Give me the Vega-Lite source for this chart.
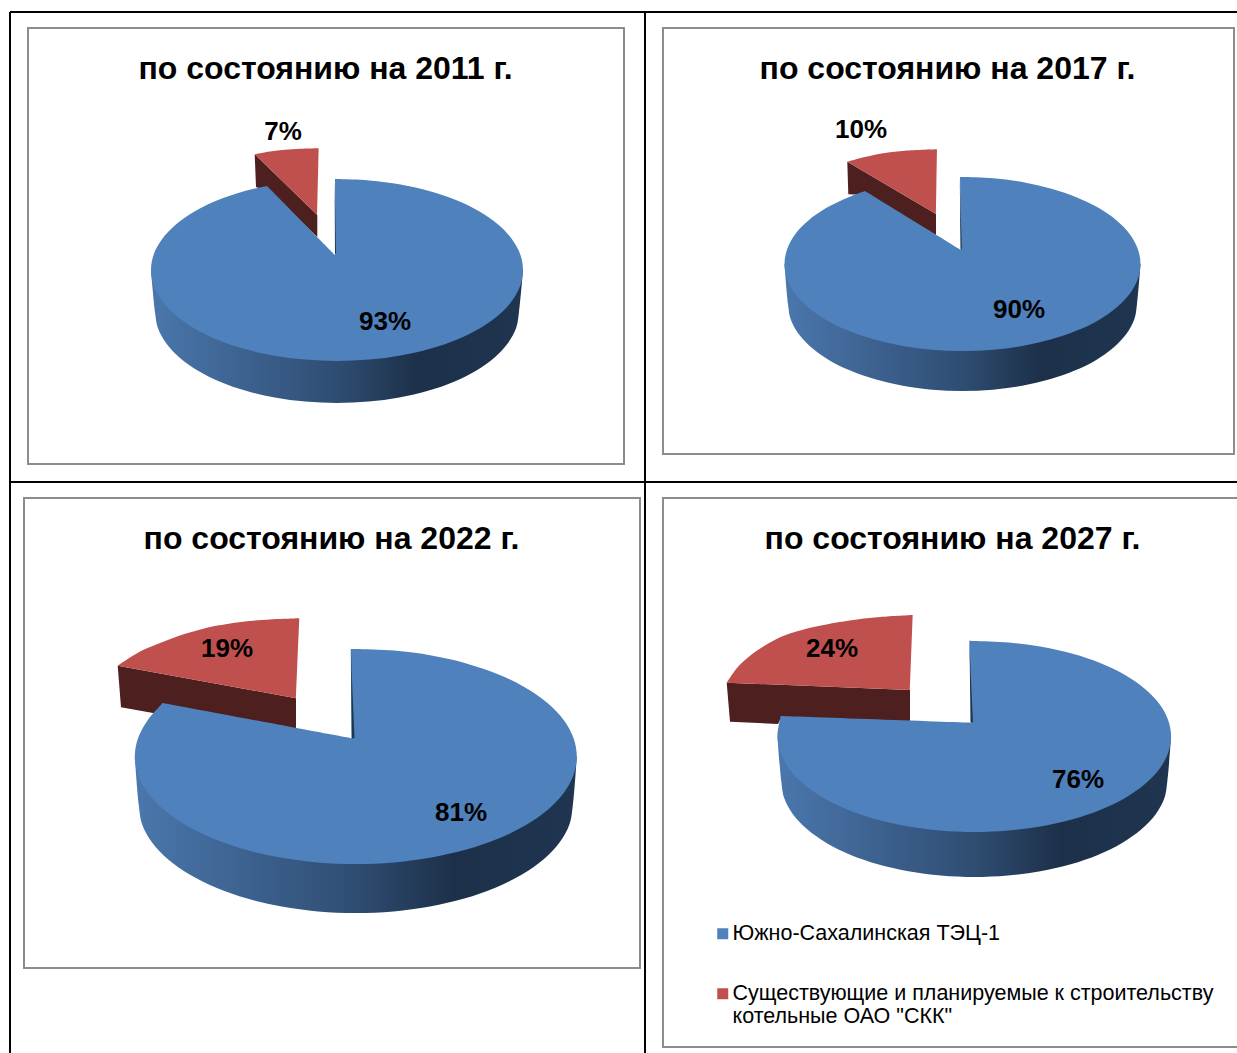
{"$schema":"https://vega.github.io/schema/vega-lite/v6.json","background":"white","padding":{"left":9,"top":11,"right":0,"bottom":0},"bounds":"flush","spacing":0,"columns":2,"config":{"view":{"stroke":null},"font":"Liberation Sans","title":{"font":"Liberation Sans","fontSize":32,"fontWeight":"bold","color":"#000000","baseline":"alphabetic","anchor":"middle","offset":-75},"text":{"font":"Liberation Sans","fontSize":26,"fontWeight":"bold","color":"#000000","dy":1},"legend":{"labelFont":"Liberation Sans","labelFontSize":21.5,"labelColor":"#000000","symbolType":"square","symbolSize":121,"symbolStrokeWidth":0,"labelOffset":-1,"labelLimit":600,"orient":"none","legendX":702,"legendY":911,"rowPadding":37,"zindex":1}},"concat":[{"width":635,"height":470,"title":{"text":"по состоянию на 2011 г.","dx":-2},"encoding":{"x":{"field":"x","type":"quantitative","axis":null,"scale":{"domain":[10,645],"nice":false,"zero":false}},"y":{"field":"y","type":"quantitative","axis":null,"scale":{"domain":[482,12],"nice":false,"zero":false}}},"layer":[{"data":{"values":[{"x":10,"y":12,"x2":645,"y2":12},{"x":10,"y":12,"x2":10,"y2":482},{"x":645,"y":12,"x2":645,"y2":482},{"x":10,"y":482,"x2":645,"y2":482}]},"mark":{"type":"rule","color":"#000000","strokeWidth":2},"encoding":{"x2":{"field":"x2"},"y2":{"field":"y2"}}},{"data":{"values":[{"x":28,"y":28,"x2":624,"y2":464}]},"mark":{"type":"rect","fill":"#ffffff","stroke":"#8c8c8c","strokeWidth":2},"encoding":{"x2":{"field":"x2"},"y2":{"field":"y2"}}},{"data":{"values":[{"x":254.7,"y":154.3},{"x":317.3,"y":215},{"x":317.3,"y":237},{"x":270,"y":192},{"x":256,"y":187}]},"mark":{"type":"line","filled":true,"fill":"#4d1f1f","stroke":null},"encoding":{"order":{"value":null}}},{"data":{"values":[{"x":254.7,"y":154.3},{"x":270,"y":151.5},{"x":285,"y":149.8},{"x":300,"y":148.8},{"x":318.7,"y":148.3},{"x":318.7,"y":148.3},{"x":317.3,"y":215}]},"mark":{"type":"line","filled":true,"stroke":null,"interpolate":"catmull-rom"},"encoding":{"order":{"value":null},"color":{"datum":"Существующие и планируемые к строительству котельные ОАО \"СКК\"","scale":{"domain":["Южно-Сахалинская ТЭЦ-1","Существующие и планируемые к строительству котельные ОАО \"СКК\""],"range":["#4f81bd","#c0504d"]},"legend":{"title":null,"labelExpr":"datum.label=='Южно-Сахалинская ТЭЦ-1' ? datum.label : ['Существующие и планируемые к строительству','котельные ОАО \"СКК\"']"}}}},{"data":{"values":[{"x":523,"y":270},{"x":519,"y":312},{"x":516.2,"y":327.8},{"x":508,"y":343.1},{"x":494.6,"y":357.5},{"x":476.4,"y":370.5},{"x":454,"y":381.7},{"x":428,"y":390.8},{"x":399.2,"y":397.5},{"x":368.6,"y":401.6},{"x":337,"y":403},{"x":305.4,"y":401.6},{"x":274.8,"y":397.5},{"x":246,"y":390.8},{"x":220,"y":381.7},{"x":197.6,"y":370.5},{"x":179.4,"y":357.5},{"x":166,"y":343.1},{"x":157.8,"y":327.8},{"x":155,"y":312},{"x":151,"y":270}]},"mark":{"type":"line","filled":true,"stroke":null,"interpolate":"catmull-rom","fill":{"gradient":"linear","x1":0,"y1":0,"x2":1,"y2":0,"stops":[{"offset":0,"color":"#4a77ad"},{"offset":0.5,"color":"#2f4d72"},{"offset":0.72,"color":"#1c3049"},{"offset":1,"color":"#1f3550"}]}},"encoding":{"order":{"value":null}}},{"data":{"values":[{"x":335,"y":179},{"x":337,"y":179},{"x":369.3,"y":180.4},{"x":400.6,"y":184.5},{"x":430,"y":191.2},{"x":456.6,"y":200.3},{"x":479.5,"y":211.5},{"x":498.1,"y":224.5},{"x":511.8,"y":238.9},{"x":520.2,"y":254.2},{"x":523,"y":270},{"x":520.2,"y":285.8},{"x":511.8,"y":301.1},{"x":498.1,"y":315.5},{"x":479.5,"y":328.5},{"x":456.6,"y":339.7},{"x":430,"y":348.8},{"x":400.6,"y":355.5},{"x":369.3,"y":359.6},{"x":337,"y":361},{"x":304.7,"y":359.6},{"x":273.4,"y":355.5},{"x":244,"y":348.8},{"x":217.4,"y":339.7},{"x":194.5,"y":328.5},{"x":175.9,"y":315.5},{"x":162.2,"y":301.1},{"x":153.8,"y":285.8},{"x":151,"y":270},{"x":153.8,"y":254.2},{"x":162.2,"y":238.9},{"x":175.9,"y":224.5},{"x":194.5,"y":211.5},{"x":217.4,"y":200.3},{"x":244,"y":191.2},{"x":267,"y":186},{"x":267,"y":186},{"x":335,"y":255}]},"mark":{"type":"line","filled":true,"stroke":null,"interpolate":"catmull-rom"},"encoding":{"order":{"value":null},"color":{"datum":"Южно-Сахалинская ТЭЦ-1","scale":{"domain":["Южно-Сахалинская ТЭЦ-1","Существующие и планируемые к строительству котельные ОАО \"СКК\""],"range":["#4f81bd","#c0504d"]},"legend":{"title":null,"labelExpr":"datum.label=='Южно-Сахалинская ТЭЦ-1' ? datum.label : ['Существующие и планируемые к строительству','котельные ОАО \"СКК\"']"}}}},{"data":{"values":[{"x":334.6,"y":180},{"x":335,"y":254},{"x":336,"y":253}]},"mark":{"type":"line","filled":true,"fill":"#1f3550","stroke":null},"encoding":{"order":{"value":null}}},{"data":{"values":[{"series":"Существующие котельные","value":0.07,"x":283,"y":131},{"series":"Южно-Сахалинская ТЭЦ-1","value":0.93,"x":385,"y":321}]},"mark":{"type":"text"},"encoding":{"text":{"field":"value","type":"quantitative","format":".0%"}}}]},{"width":593,"height":470,"title":{"text":"по состоянию на 2017 г.","dx":6},"encoding":{"x":{"field":"x","type":"quantitative","axis":null,"scale":{"domain":[645,1238],"nice":false,"zero":false}},"y":{"field":"y","type":"quantitative","axis":null,"scale":{"domain":[482,12],"nice":false,"zero":false}}},"layer":[{"data":{"values":[{"x":645,"y":12,"x2":1238,"y2":12},{"x":645,"y":482,"x2":1238,"y2":482}]},"mark":{"type":"rule","color":"#000000","strokeWidth":2},"encoding":{"x2":{"field":"x2"},"y2":{"field":"y2"}}},{"data":{"values":[{"x":663,"y":28,"x2":1234,"y2":454}]},"mark":{"type":"rect","fill":"#ffffff","stroke":"#8c8c8c","strokeWidth":2},"encoding":{"x2":{"field":"x2"},"y2":{"field":"y2"}}},{"data":{"values":[{"x":847.3,"y":161.7},{"x":936,"y":214},{"x":936,"y":235},{"x":868,"y":195},{"x":848.3,"y":194.3}]},"mark":{"type":"line","filled":true,"fill":"#4d1f1f","stroke":null},"encoding":{"order":{"value":null}}},{"data":{"values":[{"x":847.3,"y":161.7},{"x":865,"y":157},{"x":885,"y":153},{"x":905,"y":150.8},{"x":937,"y":149.3},{"x":937,"y":149.3},{"x":936,"y":214}]},"mark":{"type":"line","filled":true,"stroke":null,"interpolate":"catmull-rom"},"encoding":{"order":{"value":null},"color":{"datum":"Существующие и планируемые к строительству котельные ОАО \"СКК\"","scale":{"domain":["Южно-Сахалинская ТЭЦ-1","Существующие и планируемые к строительству котельные ОАО \"СКК\""],"range":["#4f81bd","#c0504d"]},"legend":{"title":null,"labelExpr":"datum.label=='Южно-Сахалинская ТЭЦ-1' ? datum.label : ['Существующие и планируемые к строительству','котельные ОАО \"СКК\"']"}}}},{"data":{"values":[{"x":1140.5,"y":264},{"x":1137,"y":304},{"x":1134.4,"y":319.1},{"x":1126.5,"y":333.8},{"x":1113.6,"y":347.5},{"x":1096.2,"y":359.9},{"x":1074.7,"y":370.6},{"x":1049.8,"y":379.3},{"x":1022.2,"y":385.8},{"x":992.8,"y":389.7},{"x":962.5,"y":391},{"x":932.2,"y":389.7},{"x":902.8,"y":385.8},{"x":875.2,"y":379.3},{"x":850.3,"y":370.6},{"x":828.8,"y":359.9},{"x":811.4,"y":347.5},{"x":798.5,"y":333.8},{"x":790.6,"y":319.1},{"x":788,"y":304},{"x":784.5,"y":264}]},"mark":{"type":"line","filled":true,"stroke":null,"interpolate":"catmull-rom","fill":{"gradient":"linear","x1":0,"y1":0,"x2":1,"y2":0,"stops":[{"offset":0,"color":"#4a77ad"},{"offset":0.5,"color":"#2f4d72"},{"offset":0.72,"color":"#1c3049"},{"offset":1,"color":"#1f3550"}]}},"encoding":{"order":{"value":null}}},{"data":{"values":[{"x":960,"y":177},{"x":962.5,"y":177},{"x":993.4,"y":178.3},{"x":1023.4,"y":182.2},{"x":1051.5,"y":188.7},{"x":1076.9,"y":197.4},{"x":1098.9,"y":208.1},{"x":1116.6,"y":220.5},{"x":1129.8,"y":234.2},{"x":1137.8,"y":248.9},{"x":1140.5,"y":264},{"x":1137.8,"y":279.1},{"x":1129.8,"y":293.8},{"x":1116.6,"y":307.5},{"x":1098.9,"y":319.9},{"x":1076.9,"y":330.6},{"x":1051.5,"y":339.3},{"x":1023.4,"y":345.8},{"x":993.4,"y":349.7},{"x":962.5,"y":351},{"x":931.6,"y":349.7},{"x":901.6,"y":345.8},{"x":873.5,"y":339.3},{"x":848.1,"y":330.6},{"x":826.1,"y":319.9},{"x":808.4,"y":307.5},{"x":795.2,"y":293.8},{"x":787.2,"y":279.1},{"x":784.5,"y":264},{"x":787.2,"y":248.9},{"x":795.2,"y":234.2},{"x":808.4,"y":220.5},{"x":826.1,"y":208.1},{"x":848.1,"y":197.4},{"x":865,"y":191},{"x":865,"y":191},{"x":961,"y":250}]},"mark":{"type":"line","filled":true,"stroke":null,"interpolate":"catmull-rom"},"encoding":{"order":{"value":null},"color":{"datum":"Южно-Сахалинская ТЭЦ-1","scale":{"domain":["Южно-Сахалинская ТЭЦ-1","Существующие и планируемые к строительству котельные ОАО \"СКК\""],"range":["#4f81bd","#c0504d"]},"legend":{"title":null,"labelExpr":"datum.label=='Южно-Сахалинская ТЭЦ-1' ? datum.label : ['Существующие и планируемые к строительству','котельные ОАО \"СКК\"']"}}}},{"data":{"values":[{"x":959.8,"y":178},{"x":960.5,"y":250},{"x":961.8,"y":249}]},"mark":{"type":"line","filled":true,"fill":"#1f3550","stroke":null},"encoding":{"order":{"value":null}}},{"data":{"values":[{"series":"Существующие котельные","value":0.1,"x":861,"y":129},{"series":"Южно-Сахалинская ТЭЦ-1","value":0.9,"x":1019,"y":309}]},"mark":{"type":"text"},"encoding":{"text":{"field":"value","type":"quantitative","format":".0%"}}}]},{"width":635,"height":572,"title":{"text":"по состоянию на 2022 г.","dx":4},"encoding":{"x":{"field":"x","type":"quantitative","axis":null,"scale":{"domain":[10,645],"nice":false,"zero":false}},"y":{"field":"y","type":"quantitative","axis":null,"scale":{"domain":[1054,482],"nice":false,"zero":false}}},"layer":[{"data":{"values":[{"x":10,"y":482,"x2":10,"y2":1054},{"x":645,"y":482,"x2":645,"y2":1054}]},"mark":{"type":"rule","color":"#000000","strokeWidth":2},"encoding":{"x2":{"field":"x2"},"y2":{"field":"y2"}}},{"data":{"values":[{"x":24,"y":498,"x2":640,"y2":968}]},"mark":{"type":"rect","fill":"#ffffff","stroke":"#8c8c8c","strokeWidth":2},"encoding":{"x2":{"field":"x2"},"y2":{"field":"y2"}}},{"data":{"values":[{"x":117.7,"y":665.7},{"x":296,"y":698.3},{"x":296,"y":732},{"x":170,"y":715},{"x":153,"y":713},{"x":121,"y":707.3}]},"mark":{"type":"line","filled":true,"fill":"#4d1f1f","stroke":null},"encoding":{"order":{"value":null}}},{"data":{"values":[{"x":117.7,"y":665.7},{"x":130,"y":657.5},{"x":143,"y":650},{"x":160,"y":643},{"x":177,"y":636.5},{"x":195,"y":631},{"x":210,"y":627},{"x":243,"y":621.7},{"x":270,"y":619.5},{"x":299.3,"y":618.3},{"x":299.3,"y":618.3},{"x":296,"y":698.3}]},"mark":{"type":"line","filled":true,"stroke":null,"interpolate":"catmull-rom"},"encoding":{"order":{"value":null},"color":{"datum":"Существующие и планируемые к строительству котельные ОАО \"СКК\"","scale":{"domain":["Южно-Сахалинская ТЭЦ-1","Существующие и планируемые к строительству котельные ОАО \"СКК\""],"range":["#4f81bd","#c0504d"]},"legend":{"title":null,"labelExpr":"datum.label=='Южно-Сахалинская ТЭЦ-1' ? datum.label : ['Существующие и планируемые к строительству','котельные ОАО \"СКК\"']"}}}},{"data":{"values":[{"x":576.8,"y":756.5},{"x":572.8,"y":805.5},{"x":569.5,"y":824.2},{"x":559.7,"y":842.3},{"x":543.7,"y":859.3},{"x":522,"y":874.6},{"x":495.3,"y":887.8},{"x":464.3,"y":898.6},{"x":430,"y":906.5},{"x":393.5,"y":911.4},{"x":355.8,"y":913},{"x":318.1,"y":911.4},{"x":281.6,"y":906.5},{"x":247.3,"y":898.6},{"x":216.3,"y":887.8},{"x":189.6,"y":874.6},{"x":167.9,"y":859.3},{"x":151.9,"y":842.3},{"x":142.1,"y":824.2},{"x":138.8,"y":805.5},{"x":134.8,"y":756.5}]},"mark":{"type":"line","filled":true,"stroke":null,"interpolate":"catmull-rom","fill":{"gradient":"linear","x1":0,"y1":0,"x2":1,"y2":0,"stops":[{"offset":0,"color":"#4a77ad"},{"offset":0.5,"color":"#2f4d72"},{"offset":0.72,"color":"#1c3049"},{"offset":1,"color":"#1f3550"}]}},"encoding":{"order":{"value":null}}},{"data":{"values":[{"x":350.7,"y":649},{"x":355.8,"y":649},{"x":394.2,"y":650.6},{"x":431.4,"y":655.5},{"x":466.3,"y":663.4},{"x":497.9,"y":674.2},{"x":525.1,"y":687.4},{"x":547.2,"y":702.7},{"x":563.5,"y":719.7},{"x":573.4,"y":737.8},{"x":576.8,"y":756.5},{"x":573.4,"y":775.2},{"x":563.5,"y":793.3},{"x":547.2,"y":810.3},{"x":525.1,"y":825.6},{"x":497.9,"y":838.8},{"x":466.3,"y":849.6},{"x":431.4,"y":857.5},{"x":394.2,"y":862.4},{"x":355.8,"y":864},{"x":317.4,"y":862.4},{"x":280.2,"y":857.5},{"x":245.3,"y":849.6},{"x":213.7,"y":838.8},{"x":186.5,"y":825.6},{"x":164.4,"y":810.3},{"x":148.1,"y":793.3},{"x":138.2,"y":775.2},{"x":134.8,"y":756.5},{"x":138.2,"y":737.8},{"x":148.1,"y":719.7},{"x":162.7,"y":703},{"x":162.7,"y":703},{"x":351.7,"y":738.3}]},"mark":{"type":"line","filled":true,"stroke":null,"interpolate":"catmull-rom"},"encoding":{"order":{"value":null},"color":{"datum":"Южно-Сахалинская ТЭЦ-1","scale":{"domain":["Южно-Сахалинская ТЭЦ-1","Существующие и планируемые к строительству котельные ОАО \"СКК\""],"range":["#4f81bd","#c0504d"]},"legend":{"title":null,"labelExpr":"datum.label=='Южно-Сахалинская ТЭЦ-1' ? datum.label : ['Существующие и планируемые к строительству','котельные ОАО \"СКК\"']"}}}},{"data":{"values":[{"x":351,"y":650},{"x":351.7,"y":738.5},{"x":354.5,"y":738},{"x":352,"y":680}]},"mark":{"type":"line","filled":true,"fill":"#1f3550","stroke":null},"encoding":{"order":{"value":null}}},{"data":{"values":[{"series":"Существующие котельные","value":0.19,"x":227,"y":648},{"series":"Южно-Сахалинская ТЭЦ-1","value":0.81,"x":461,"y":812}]},"mark":{"type":"text"},"encoding":{"text":{"field":"value","type":"quantitative","format":".0%"}}}]},{"width":593,"height":572,"title":{"text":"по состоянию на 2027 г.","dx":11,"offset":-74},"encoding":{"x":{"field":"x","type":"quantitative","axis":null,"scale":{"domain":[645,1238],"nice":false,"zero":false}},"y":{"field":"y","type":"quantitative","axis":null,"scale":{"domain":[1054,482],"nice":false,"zero":false}}},"layer":[{"data":{"values":[{"x":663,"y":498,"x2":1245,"y2":1047}]},"mark":{"type":"rect","fill":"#ffffff","stroke":"#8c8c8c","strokeWidth":2,"clip":true},"encoding":{"x2":{"field":"x2"},"y2":{"field":"y2"}}},{"data":{"values":[{"x":726.7,"y":682.7},{"x":910,"y":690},{"x":910,"y":722},{"x":780,"y":720},{"x":778,"y":724},{"x":730,"y":721.7}]},"mark":{"type":"line","filled":true,"fill":"#4d1f1f","stroke":null},"encoding":{"order":{"value":null}}},{"data":{"values":[{"x":726.7,"y":682.7},{"x":738,"y":666.7},{"x":748,"y":657.5},{"x":765,"y":645.5},{"x":781.7,"y":636.5},{"x":798,"y":631},{"x":815,"y":626.7},{"x":848,"y":620.7},{"x":880,"y":617},{"x":912.7,"y":615},{"x":912.7,"y":615},{"x":910,"y":690}]},"mark":{"type":"line","filled":true,"stroke":null,"interpolate":"catmull-rom"},"encoding":{"order":{"value":null},"color":{"datum":"Существующие и планируемые к строительству котельные ОАО \"СКК\"","scale":{"domain":["Южно-Сахалинская ТЭЦ-1","Существующие и планируемые к строительству котельные ОАО \"СКК\""],"range":["#4f81bd","#c0504d"]},"legend":{"title":null,"labelExpr":"datum.label=='Южно-Сахалинская ТЭЦ-1' ? datum.label : ['Существующие и планируемые к строительству','котельные ОАО \"СКК\"']"}}}},{"data":{"values":[{"x":1171.1,"y":736.5},{"x":1167.3,"y":781.5},{"x":1164.4,"y":798.1},{"x":1155.7,"y":814.2},{"x":1141.4,"y":829.3},{"x":1122.1,"y":842.9},{"x":1098.4,"y":854.7},{"x":1070.8,"y":864.2},{"x":1040.3,"y":871.2},{"x":1007.8,"y":875.5},{"x":974.3,"y":877},{"x":940.8,"y":875.5},{"x":908.3,"y":871.2},{"x":877.8,"y":864.2},{"x":850.2,"y":854.7},{"x":826.5,"y":842.9},{"x":807.2,"y":829.3},{"x":792.9,"y":814.2},{"x":784.2,"y":798.1},{"x":781.3,"y":781.5},{"x":777.5,"y":736.5}]},"mark":{"type":"line","filled":true,"stroke":null,"interpolate":"catmull-rom","fill":{"gradient":"linear","x1":0,"y1":0,"x2":1,"y2":0,"stops":[{"offset":0,"color":"#4a77ad"},{"offset":0.5,"color":"#2f4d72"},{"offset":0.72,"color":"#1c3049"},{"offset":1,"color":"#1f3550"}]}},"encoding":{"order":{"value":null}}},{"data":{"values":[{"x":969.3,"y":640.7},{"x":974.3,"y":641},{"x":1008.5,"y":642.5},{"x":1041.6,"y":646.8},{"x":1072.7,"y":653.8},{"x":1100.8,"y":663.3},{"x":1125.1,"y":675.1},{"x":1144.7,"y":688.7},{"x":1159.2,"y":703.8},{"x":1168.1,"y":719.9},{"x":1171.1,"y":736.5},{"x":1168.1,"y":753.1},{"x":1159.2,"y":769.2},{"x":1144.7,"y":784.3},{"x":1125.1,"y":797.9},{"x":1100.8,"y":809.7},{"x":1072.7,"y":819.2},{"x":1041.6,"y":826.2},{"x":1008.5,"y":830.5},{"x":974.3,"y":832},{"x":940.1,"y":830.5},{"x":907,"y":826.2},{"x":875.9,"y":819.2},{"x":847.8,"y":809.7},{"x":823.5,"y":797.9},{"x":803.9,"y":784.3},{"x":789.4,"y":769.2},{"x":780.5,"y":753.1},{"x":777.5,"y":736.5},{"x":780.7,"y":716},{"x":780.7,"y":716},{"x":971.7,"y":722.7}]},"mark":{"type":"line","filled":true,"stroke":null,"interpolate":"catmull-rom"},"encoding":{"order":{"value":null},"color":{"datum":"Южно-Сахалинская ТЭЦ-1","scale":{"domain":["Южно-Сахалинская ТЭЦ-1","Существующие и планируемые к строительству котельные ОАО \"СКК\""],"range":["#4f81bd","#c0504d"]},"legend":{"title":null,"labelExpr":"datum.label=='Южно-Сахалинская ТЭЦ-1' ? datum.label : ['Существующие и планируемые к строительству','котельные ОАО \"СКК\"']"}}}},{"data":{"values":[{"x":969.5,"y":642},{"x":970.5,"y":722.5},{"x":973,"y":722.5},{"x":971,"y":680}]},"mark":{"type":"line","filled":true,"fill":"#1f3550","stroke":null},"encoding":{"order":{"value":null}}},{"data":{"values":[{"series":"Существующие котельные","value":0.24,"x":832,"y":648},{"series":"Южно-Сахалинская ТЭЦ-1","value":0.76,"x":1078,"y":779}]},"mark":{"type":"text"},"encoding":{"text":{"field":"value","type":"quantitative","format":".0%"}}}]}]}
